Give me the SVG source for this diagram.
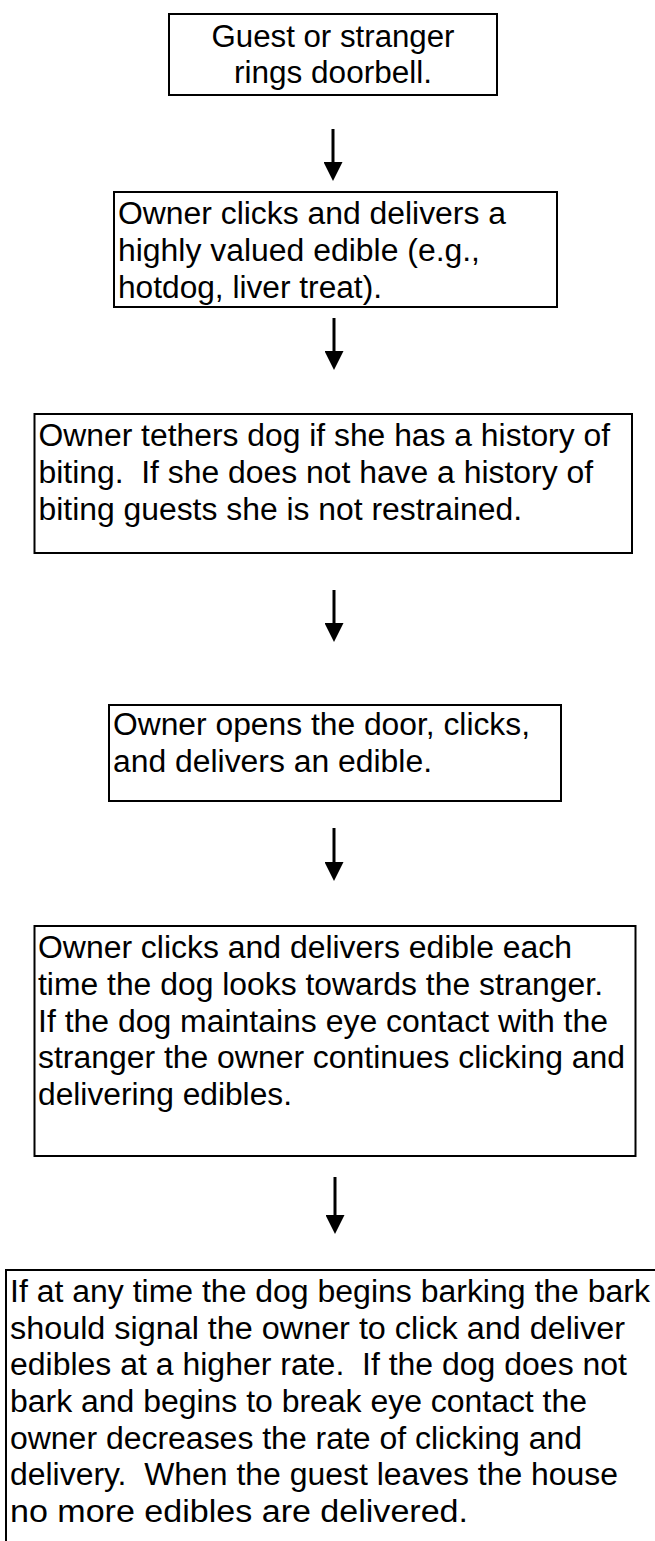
<svg xmlns="http://www.w3.org/2000/svg" width="655" height="1541" viewBox="0 0 655 1541">
<style>
.box{fill:#fff;stroke:#000;stroke-width:2}
.t{font-family:"Liberation Sans",Arial,Helvetica,sans-serif;font-size:31px;fill:#000;white-space:pre}
.c{text-anchor:middle}
.conn{stroke:#000;stroke-width:3;fill:none}
</style>
<defs>
<marker id="ah" markerUnits="userSpaceOnUse" markerWidth="19" markerHeight="19" refX="0" refY="9.5" orient="auto" viewBox="0 0 19 19">
<path d="M0,0 L19,9.5 L0,19 Z" fill="#000"/>
</marker>
</defs>
<rect width="655" height="1541" fill="#fff"/>
<g id="connectors">
<line class="conn" x1="333" y1="129" x2="333" y2="162" stroke-width="4" marker-end="url(#ah)"/>
<line class="conn" x1="334" y1="318" x2="334" y2="351" marker-end="url(#ah)"/>
<line class="conn" x1="334" y1="590" x2="334" y2="623" marker-end="url(#ah)"/>
<line class="conn" x1="334" y1="828" x2="334" y2="862" marker-end="url(#ah)"/>
<line class="conn" x1="335" y1="1177" x2="335" y2="1215" marker-end="url(#ah)"/>
</g>
<g id="n1">
<rect class="box" x="169" y="14" width="328" height="81"/>
<text class="t c" x="333" y="47" textLength="243" lengthAdjust="spacingAndGlyphs">Guest or stranger</text>
<text class="t c" x="333" y="83" textLength="198" lengthAdjust="spacingAndGlyphs">rings doorbell.</text>
</g>
<g id="n2">
<rect class="box" x="114" y="192" width="443" height="115"/>
<text class="t" x="118" y="224" textLength="388" lengthAdjust="spacingAndGlyphs">Owner clicks and delivers a</text>
<text class="t" x="118" y="261" textLength="362" lengthAdjust="spacingAndGlyphs">highly valued edible (e.g.,</text>
<text class="t" x="118" y="298" textLength="264" lengthAdjust="spacingAndGlyphs">hotdog, liver treat).</text>
</g>
<g id="n3">
<rect class="box" x="34.5" y="414" width="597.5" height="139"/>
<text class="t" x="38.5" y="446" textLength="571.5" lengthAdjust="spacingAndGlyphs">Owner tethers dog if she has a history of</text>
<text class="t" x="38.5" y="483" textLength="554.5" lengthAdjust="spacingAndGlyphs">biting.  If she does not have a history of</text>
<text class="t" x="38.5" y="520" textLength="483.5" lengthAdjust="spacingAndGlyphs">biting guests she is not restrained.</text>
</g>
<g id="n4">
<rect class="box" x="109" y="705" width="452" height="96"/>
<text class="t" x="113" y="735" textLength="417" lengthAdjust="spacingAndGlyphs">Owner opens the door, clicks,</text>
<text class="t" x="113" y="772" textLength="319" lengthAdjust="spacingAndGlyphs">and delivers an edible.</text>
</g>
<g id="n5">
<rect class="box" x="34.5" y="926" width="601" height="230"/>
<text class="t" x="38" y="958" textLength="534" lengthAdjust="spacingAndGlyphs">Owner clicks and delivers edible each</text>
<text class="t" x="38" y="995" textLength="565" lengthAdjust="spacingAndGlyphs">time the dog looks towards the stranger.</text>
<text class="t" x="38" y="1032" textLength="570" lengthAdjust="spacingAndGlyphs">If the dog maintains eye contact with the</text>
<text class="t" x="38" y="1068" textLength="587" lengthAdjust="spacingAndGlyphs">stranger the owner continues clicking and</text>
<text class="t" x="38" y="1105" textLength="254" lengthAdjust="spacingAndGlyphs">delivering edibles.</text>
</g>
<g id="n6">
<rect class="box" x="6" y="1270" width="660" height="290"/>
<text class="t" x="10" y="1302" textLength="640" lengthAdjust="spacingAndGlyphs">If at any time the dog begins barking the bark</text>
<text class="t" x="10" y="1339" textLength="615" lengthAdjust="spacingAndGlyphs">should signal the owner to click and deliver</text>
<text class="t" x="10" y="1375" textLength="617" lengthAdjust="spacingAndGlyphs">edibles at a higher rate.  If the dog does not</text>
<text class="t" x="10" y="1412" textLength="577" lengthAdjust="spacingAndGlyphs">bark and begins to break eye contact the</text>
<text class="t" x="10" y="1449" textLength="572" lengthAdjust="spacingAndGlyphs">owner decreases the rate of clicking and</text>
<text class="t" x="10" y="1485" textLength="608" lengthAdjust="spacingAndGlyphs">delivery.  When the guest leaves the house</text>
<text class="t" x="10" y="1522" textLength="458" lengthAdjust="spacingAndGlyphs">no more edibles are delivered.</text>
</g>
</svg>
